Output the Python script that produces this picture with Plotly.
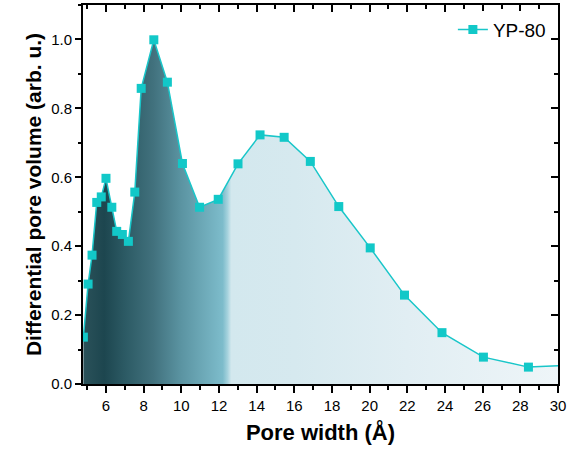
import plotly.graph_objects as go

# ---- data ----
pore_width = [4.80, 5.05, 5.26, 5.51, 5.75, 6.00, 6.31, 6.57, 6.87, 7.19, 7.53, 7.87,
              8.54, 9.26, 10.06, 10.97, 11.96, 13.01, 14.18, 15.46, 16.85, 18.36,
              20.03, 21.85, 23.84, 26.04, 28.43, 31.0]
dpv = [0.136, 0.29, 0.374, 0.527, 0.543, 0.597, 0.513, 0.443, 0.434, 0.414, 0.557, 0.858,
       0.999, 0.876, 0.640, 0.513, 0.536, 0.639, 0.723, 0.716, 0.646, 0.515,
       0.395, 0.258, 0.149, 0.078, 0.049, 0.056]
series_name = "YP-80"

W, H = 585, 451
L, R, T, B = 83, 27, 5, 67
x0, x1 = 4.78, 30.0
y0, y1 = 0.0, 1.1
span = x1 - x0


def nx(v):
    return (v - x0) / span


fill_scale = [
    [0.0, "#2b525a"], [nx(5.9), "#1d464f"], [nx(7.0), "#2c5a64"], [nx(8.5), "#41717d"],
    [nx(10.0), "#5b94a2"], [nx(12.2), "#7dbccb"], [nx(12.45), "#a5d2dd"],
    [nx(12.65), "#d3e8ee"], [nx(16.0), "#d6e9ef"], [nx(22.0), "#e1eef3"], [1.0, "#eef5f8"],
]

fig = go.Figure()
fig.add_trace(go.Scatter(x=pore_width, y=dpv, mode="none", showlegend=False, hoverinfo="skip",
                         fill="tozeroy",
                         fillgradient=dict(type="horizontal", start=x0, stop=x1, colorscale=fill_scale)))
fig.add_trace(go.Scatter(x=pore_width, y=dpv, name=series_name, mode="lines+markers",
                         line=dict(color="#19c6c9", width=1.5),
                         marker=dict(symbol="square", size=9, color="#12c8c8")))
fig.add_trace(go.Scatter(x=[x0, x1], y=[y0, y1], xaxis="x2", yaxis="y2",
                         mode="markers", marker=dict(opacity=0), showlegend=False))

fig.update_layout(
    width=W, height=H, margin=dict(l=L, r=R, t=T, b=B),
    paper_bgcolor="white", plot_bgcolor="rgba(0,0,0,0)",
    font=dict(family="Arial", color="black"),
    xaxis=dict(range=[x0, x1], dtick=2, ticks="outside", ticklen=7, tickwidth=2, tickcolor="black",
               minor=dict(dtick=1, ticks="outside", ticklen=4, tickcolor="black"),
               showline=True, linecolor="black", linewidth=2, showgrid=False, zeroline=False,
               tickfont=dict(size=15),
               title=dict(text="<b>Pore width (Å)</b>", font=dict(size=22), standoff=12)),
    yaxis=dict(range=[y0, y1], dtick=0.2, tickformat=".1f", ticks="outside", ticklen=6, tickwidth=2,
               tickcolor="black",
               minor=dict(dtick=0.1, ticks="outside", ticklen=3, tickcolor="black"),
               showline=True, linecolor="black", linewidth=2, showgrid=False, zeroline=False,
               tickfont=dict(size=15),
               title=dict(text="<b>Differential pore volume (arb. u.)</b>", font=dict(size=21), standoff=4)),
    xaxis2=dict(range=[x0, x1], overlaying="x", side="top", anchor="y", dtick=2,
                ticks="inside", ticklen=7, tickwidth=2, tickcolor="black", showticklabels=False,
                minor=dict(dtick=1, ticks="inside", ticklen=4, tickcolor="black"),
                showline=True, linecolor="black", linewidth=2, showgrid=False, zeroline=False),
    yaxis2=dict(range=[y0, y1], overlaying="y", side="right", anchor="x", dtick=0.2,
                ticks="inside", ticklen=7, tickwidth=2, tickcolor="black", showticklabels=False,
                minor=dict(dtick=0.1, ticks="inside", ticklen=4, tickcolor="black"),
                showline=True, linecolor="black", linewidth=2, showgrid=False, zeroline=False),
    legend=dict(x=0.985, y=0.985, xanchor="right", yanchor="top", font=dict(size=19)),
)
fig.write_html("out.html")
